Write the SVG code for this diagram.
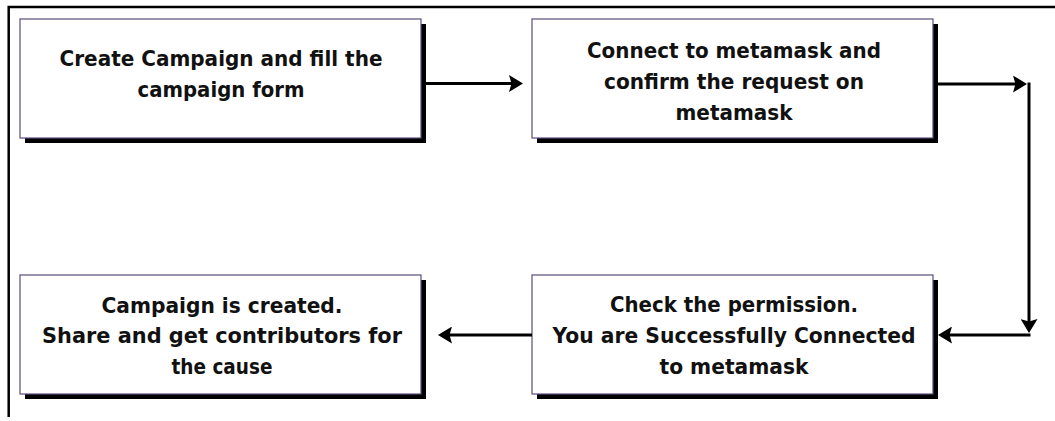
<svg xmlns="http://www.w3.org/2000/svg" width="1055" height="421" viewBox="0 0 1055 421">
<style>
.frame{stroke:#000;stroke-width:2.5;fill:none}
.shadow{fill:#000}
.box{fill:#fff;stroke:#5a4e7a;stroke-width:1.2}
.lbl{font-family:"DejaVu Sans","Liberation Sans",Arial,sans-serif;font-weight:bold;font-size:22px;fill:#111;text-anchor:middle}
.conn{stroke:#000;stroke-width:3;fill:none}
</style>
<defs>
<marker id="ah" viewBox="0 0 14 17" refX="4" refY="8.5" markerWidth="14" markerHeight="17" markerUnits="userSpaceOnUse" orient="auto">
<path d="M0,0 L14,8.5 L0,17 L2.5,8.5 Z" fill="#000"/>
</marker>
</defs>
<rect width="1055" height="421" fill="#fff"/>
<path class="frame" d="M8.7,417 V7 H1055"/>
<g id="node-create">
<rect class="shadow" x="25" y="24" width="401" height="119"/>
<rect class="box" x="20" y="19" width="401" height="119"/>
<text class="lbl" x="221" y="66" textLength="323" lengthAdjust="spacingAndGlyphs">Create Campaign and fill the</text>
<text class="lbl" x="221" y="97" textLength="167" lengthAdjust="spacingAndGlyphs">campaign form</text>
</g>
<g id="node-connect">
<rect class="shadow" x="537" y="24" width="401" height="119"/>
<rect class="box" x="532" y="19" width="401" height="119"/>
<text class="lbl" x="734" y="57.5" textLength="294" lengthAdjust="spacingAndGlyphs">Connect to metamask and</text>
<text class="lbl" x="734" y="88.5" textLength="260" lengthAdjust="spacingAndGlyphs">confirm the request on</text>
<text class="lbl" x="734" y="119.5" textLength="117" lengthAdjust="spacingAndGlyphs">metamask</text>
</g>
<g id="node-check">
<rect class="shadow" x="537" y="280" width="401" height="119"/>
<rect class="box" x="532" y="275" width="401" height="119"/>
<text class="lbl" x="734" y="312" textLength="248" lengthAdjust="spacingAndGlyphs">Check the permission.</text>
<text class="lbl" x="734" y="343" textLength="363" lengthAdjust="spacingAndGlyphs">You are Successfully Connected</text>
<text class="lbl" x="734" y="374" textLength="149" lengthAdjust="spacingAndGlyphs">to metamask</text>
</g>
<g id="node-created">
<rect class="shadow" x="25" y="280" width="401" height="119"/>
<rect class="box" x="20" y="275" width="401" height="119"/>
<text class="lbl" x="222" y="312.5" textLength="241" lengthAdjust="spacingAndGlyphs">Campaign is created.</text>
<text class="lbl" x="222" y="343" textLength="360" lengthAdjust="spacingAndGlyphs">Share and get contributors for</text>
<text class="lbl" x="222" y="374" textLength="101" lengthAdjust="spacingAndGlyphs">the cause</text>
</g>
<g id="connectors">
<path class="conn" d="M426,83.5 H513" marker-end="url(#ah)"/>
<path class="conn" d="M938,84 H1017" marker-end="url(#ah)"/>
<path class="conn" d="M1029,82.5 V323" marker-end="url(#ah)"/>
<path class="conn" d="M1030.5,335 H948" marker-end="url(#ah)"/>
<path class="conn" d="M532,335 H448" marker-end="url(#ah)"/>
</g>
</svg>
